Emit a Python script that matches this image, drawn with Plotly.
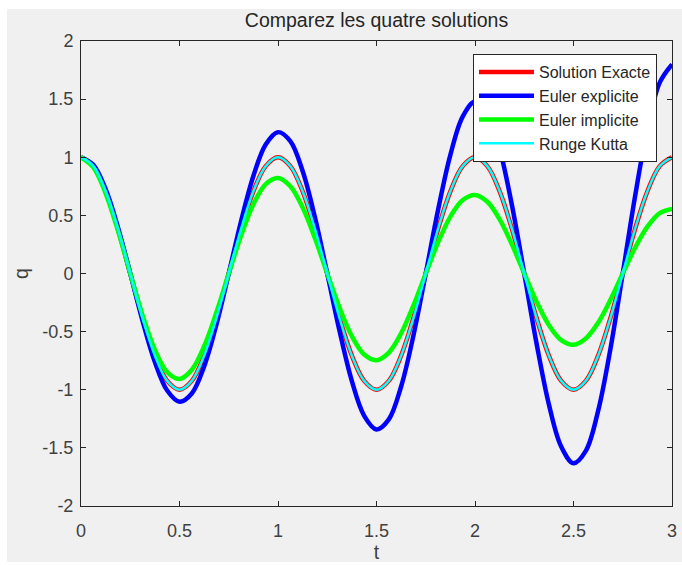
import plotly.graph_objects as go

# time samples (every 1/16 s)
t = [k / 16 for k in range(49)]

exacte = [1.000, 0.924, 0.707, 0.383, 0.000, -0.383, -0.707, -0.924,
          -1.000, -0.924, -0.707, -0.383, 0.000, 0.383, 0.707, 0.924,
          1.000, 0.924, 0.707, 0.383, 0.000, -0.383, -0.707, -0.924,
          -1.000, -0.924, -0.707, -0.383, 0.000, 0.383, 0.707, 0.924,
          1.000, 0.924, 0.707, 0.383, 0.000, -0.383, -0.707, -0.924,
          -1.000, -0.924, -0.707, -0.383, 0.000, 0.383, 0.707, 0.924,
          1.000]

euler_explicite = [1.000, 0.935, 0.725, 0.397, 0.000, -0.407, -0.761, -1.007,
                   -1.103, -1.032, -0.799, -0.438, 0.000, 0.449, 0.839, 1.110,
                   1.216, 1.138, 0.881, 0.483, 0.000, -0.495, -0.926, -1.224,
                   -1.341, -1.255, -0.972, -0.533, 0.000, 0.546, 1.021, 1.350,
                   1.479, 1.384, 1.072, 0.587, 0.000, -0.602, -1.126, -1.489,
                   -1.632, -1.526, -1.182, -0.648, 0.000, 0.664, 1.242, 1.642,
                   1.799]

euler_implicite = [1.000, 0.913, 0.690, 0.369, 0.000, -0.360, -0.657, -0.848,
                   -0.907, -0.828, -0.626, -0.334, 0.000, 0.326, 0.596, 0.769,
                   0.822, 0.750, 0.567, 0.303, 0.000, -0.296, -0.540, -0.697,
                   -0.746, -0.680, -0.514, -0.275, 0.000, 0.268, 0.490, 0.632,
                   0.676, 0.617, 0.466, 0.249, 0.000, -0.243, -0.444, -0.573,
                   -0.613, -0.559, -0.423, -0.226, 0.000, 0.221, 0.403, 0.520,
                   0.556]

runge_kutta = list(exacte)

x_ticks = [0, 0.5, 1, 1.5, 2, 2.5, 3]
y_ticks = [-2, -1.5, -1, -0.5, 0, 0.5, 1, 1.5, 2]

series = [
    ("Solution Exacte", exacte, "#ff0000", 4.5),
    ("Euler explicite", euler_explicite, "#0000ff", 4.5),
    ("Euler implicite", euler_implicite, "#00ff00", 4.5),
    ("Runge Kutta", runge_kutta, "#00ffff", 2.5),
]

FONT = "Liberation Sans, Arial, sans-serif"

fig = go.Figure()
for name, y, color, w in series:
    fig.add_trace(go.Scatter(x=t, y=y, mode="lines", name=name,
                             line=dict(color=color, width=w, shape="spline")))

axis_common = dict(showline=True, linecolor="#262626", linewidth=1, mirror="ticks",
                   ticks="inside", ticklen=5, tickcolor="#262626", showgrid=False,
                   zeroline=False, automargin=False,
                   tickfont=dict(family=FONT, size=18, color="#404040"))

fig.update_layout(
    width=682, height=565,
    margin=dict(l=81, r=10, t=41, b=59),
    paper_bgcolor="white",
    plot_bgcolor="white",
    font=dict(family=FONT, color="#262626"),
    title=dict(text="Comparez les quatre solutions", x=0.5, xref="paper", xanchor="center",
               y=(565 - 20) / 565, yref="container", yanchor="middle",
               font=dict(family=FONT, size=19.5, color="#262626")),
    xaxis=dict(range=[0, 3], tickvals=x_ticks, ticktext=[f"{v:g}" for v in x_ticks],
               ticklabelstandoff=8,
               title=dict(text="t", font=dict(family=FONT, size=19.5, color="#404040"), standoff=4),
               **axis_common),
    yaxis=dict(range=[-2, 2], tickvals=y_ticks, ticktext=[f"{v:g}" for v in y_ticks],
               ticklabelstandoff=3,
               title=dict(text="q", font=dict(family=FONT, size=19.5, color="#404040"), standoff=8),
               **axis_common),
    legend=dict(x=0.9746, y=0.972, xanchor="right", yanchor="top",
                bgcolor="white", bordercolor="#262626", borderwidth=1,
                font=dict(family=FONT, size=16, color="#262626"), itemwidth=55,
                tracegroupgap=0),
    showlegend=True,
)

# MATLAB-like grey figure background
fig.add_shape(type="rect", xref="paper", yref="paper",
              x0=-74 / 591, x1=1 + 10 / 591, y0=-56 / 465, y1=1 + 32 / 465,
              fillcolor="#f0f0f0", line=dict(width=0), layer="below")

fig.write_html("out.html")
